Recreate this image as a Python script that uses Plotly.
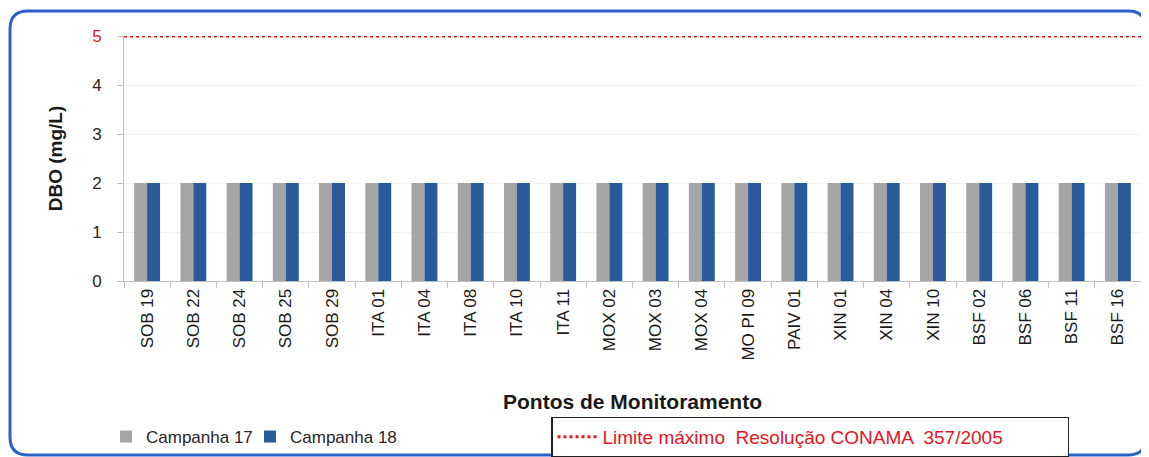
import plotly.graph_objects as go

pontos = ["SOB 19", "SOB 22", "SOB 24", "SOB 25", "SOB 29", "ITA 01", "ITA 04",
          "ITA 08", "ITA 10", "ITA 11", "MOX 02", "MOX 03", "MOX 04", "MO PI 09",
          "PAIV 01", "XIN 01", "XIN 04", "XIN 10", "BSF 02", "BSF 06", "BSF 11", "BSF 16"]
camp17 = [2] * len(pontos)
camp18 = [2] * len(pontos)
limite = [5, 5]
y_ticks = [0, 1, 2, 3, 4, 5]

# the page body adds an 8px offset, so the figure is 8px smaller than the window
W, H = 1141, 449
L, R, T, B = 116, 8, 28, 176
pw, ph = W - L - R, H - T - B


def px(x):
    return (x - L) / pw


def py(y):
    return (H - B - y) / ph


font = "Liberation Sans, Arial, sans-serif"
red = "#E3161F"

fig = go.Figure()
fig.add_bar(x=pontos, y=camp17, name="Campanha 17", marker_color="#A5A5A5",
            marker_line_width=0, legend="legend", showlegend=True)
fig.add_bar(x=pontos, y=camp18, name="Campanha 18", marker_color="#2B5A9B",
            marker_line_width=0, legend="legend3", showlegend=True)
fig.add_scatter(x=[0, 1], y=limite, xaxis="x2", mode="lines",
                line=dict(color=red, width=3, dash="dot"), showlegend=True,
                name="Limite máximo  Resolução CONAMA  357/2005", legend="legend2")

ticktext = [str(v) for v in y_ticks[:-1]] + ['<span style="color:%s">%d</span>' % (red, y_ticks[-1])]

# rounded blue frame
x0, y0, x1, y1, r = px(2), py(3), px(1138), py(447), 18
rx, ry = r / pw, r / ph
path = (f"M {x0+rx},{y0} L {x1-rx},{y0} Q {x1},{y0} {x1},{y0-ry} "
        f"L {x1},{y1+ry} Q {x1},{y1} {x1-rx},{y1} L {x0+rx},{y1} "
        f"Q {x0},{y1} {x0},{y1+ry} L {x0},{y0-ry} Q {x0},{y0} {x0+rx},{y0} Z")

leg_y = 1 - 429 / H
leg_common = dict(orientation="h", xref="container", yref="container", xanchor="left",
                  y=leg_y, yanchor="middle", itemwidth=30, bgcolor="rgba(0,0,0,0)",
                  font=dict(size=17, color="#262626"))

fig.update_layout(
    width=W, height=H, showlegend=True,
    margin=dict(l=L, r=R, t=T, b=B),
    paper_bgcolor="white", plot_bgcolor="white",
    font=dict(family=font, size=17, color="#262626"),
    barmode="group", bargap=0.44, bargroupgap=0,
    xaxis=dict(showline=True, linecolor="#BFBFBF", ticks="outside", tickson="boundaries",
               ticklen=6, tickcolor="#BFBFBF", tickangle=-90, automargin=False,
               tickfont=dict(size=17, color="#1a1a1a"),
               title=dict(text="<b>Pontos de Monitoramento</b>", font=dict(size=21, color="#1a1a1a"),
                          standoff=34)),
    xaxis2=dict(overlaying="x", range=[0, 1], visible=False),
    yaxis=dict(range=[0, 5], tickvals=y_ticks, ticktext=ticktext, showline=True,
               linecolor="#BFBFBF", ticks="outside", ticklen=6, tickcolor="#BFBFBF",
               showgrid=True, gridcolor="#F2F2F2", zeroline=False, automargin=False,
               ticklabelstandoff=12, tickfont=dict(size=17, color="#262626"),
               title=dict(text="<b>DBO (mg/L)</b>", font=dict(size=19, color="#1a1a1a"),
                          standoff=24)),
    legend=dict(x=98 / W, **leg_common),
    legend3=dict(x=242 / W, **leg_common),
    legend2=dict(orientation="h", xref="container", yref="container",
                 x=543 / W, xanchor="left", y=leg_y, yanchor="middle",
                 font=dict(size=19, color=red), bordercolor="#222", borderwidth=1.5,
                 itemwidth=40, bgcolor="white", entrywidth=460),
    shapes=[dict(type="path", xref="paper", yref="paper", path=path,
                 line=dict(color="#2A62C9", width=3), layer="below")],
)

fig.write_html("out.html")
